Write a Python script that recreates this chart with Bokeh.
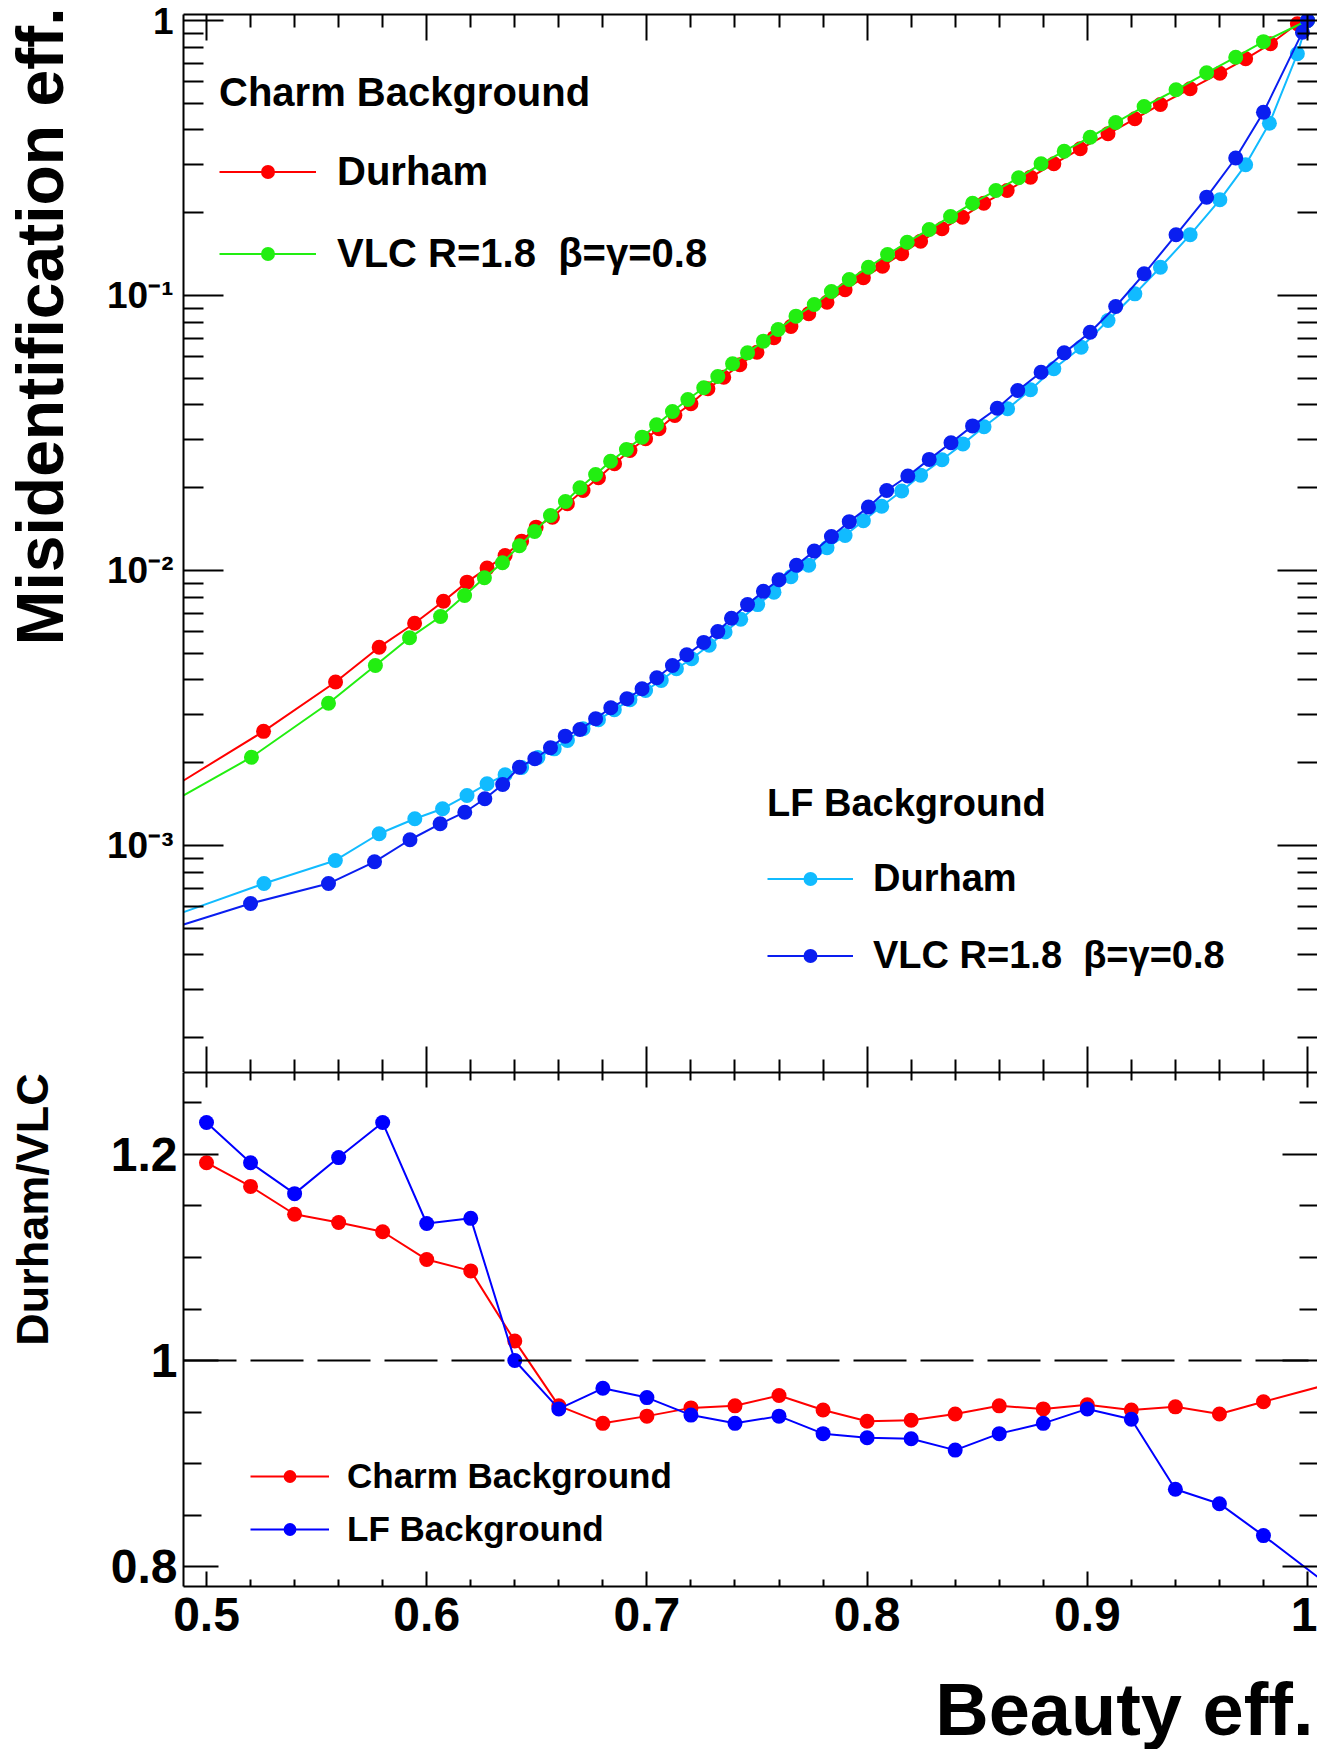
import math
from bokeh.plotting import figure
from bokeh.layouts import column, row
from bokeh.models import (FixedTicker, LinearAxis, LogAxis, Legend,
                          LegendItem, Span, Range1d)
from bokeh.core.properties import value
from bokeh.embed import file_html
from bokeh.resources import INLINE

# ---------------- data ----------------
# Charm background, Durham (red)
charm_durham_eff = [0.5259, 0.5586, 0.5784, 0.5945, 0.6076, 0.6183, 0.6274, 0.6356, 0.6431, 0.6497,
                    0.6571, 0.6639, 0.6710, 0.6780, 0.6853, 0.6923, 0.6994, 0.7055, 0.7127, 0.7200,
                    0.7277, 0.7349, 0.7422, 0.7500, 0.7577, 0.7654, 0.7735, 0.7818, 0.7900, 0.7983,
                    0.8070, 0.8157, 0.8243, 0.8340, 0.8433, 0.8530, 0.8636, 0.8742, 0.8848, 0.8968,
                    0.9094, 0.9216, 0.9332, 0.9467, 0.9602, 0.9719, 0.9832, 0.9954, 1.0]
charm_durham_mis = [2.60e-3, 3.93e-3, 5.26e-3, 6.43e-3, 7.73e-3, 9.07e-3, 1.020e-2, 1.134e-2, 1.278e-2, 1.437e-2,
                    1.562e-2, 1.748e-2, 1.953e-2, 2.174e-2, 2.443e-2, 2.731e-2, 3.012e-2, 3.275e-2, 3.661e-2, 4.039e-2,
                    4.578e-2, 5.045e-2, 5.598e-2, 6.218e-2, 7.019e-2, 7.714e-2, 8.580e-2, 9.454e-2, 0.1049, 0.1160,
                    0.1278, 0.1418, 0.1576, 0.1748, 0.1926, 0.2166, 0.2408, 0.2693, 0.3012, 0.3415,
                    0.3873, 0.4390, 0.4950, 0.5644, 0.6432, 0.7257, 0.8228, 0.9727, 1.0]
# Charm background, VLC R=1.8 beta=gamma=0.8 (green)
charm_vlc_eff = [0.5204, 0.5554, 0.5767, 0.5922, 0.6063, 0.6172, 0.6262, 0.6344, 0.6421, 0.6490,
                 0.6562, 0.6630, 0.6696, 0.6767, 0.6835, 0.6907, 0.6978, 0.7044, 0.7116, 0.7186,
                 0.7258, 0.7322, 0.7389, 0.7457, 0.7529, 0.7596, 0.7677, 0.7760, 0.7838, 0.7919,
                 0.8006, 0.8093, 0.8182, 0.8282, 0.8379, 0.8479, 0.8585, 0.8688, 0.8790, 0.8895,
                 0.9013, 0.9129, 0.9258, 0.9403, 0.9542, 0.9674, 0.9800, 1.0]
charm_vlc_mis = [2.094e-3, 3.29e-3, 4.51e-3, 5.69e-3, 6.80e-3, 8.11e-3, 9.41e-3, 1.067e-2, 1.230e-2, 1.386e-2,
                 1.585e-2, 1.782e-2, 2.000e-2, 2.234e-2, 2.497e-2, 2.754e-2, 3.053e-2, 3.387e-2, 3.787e-2, 4.184e-2,
                 4.617e-2, 5.075e-2, 5.643e-2, 6.186e-2, 6.823e-2, 7.522e-2, 8.410e-2, 9.275e-2, 0.1034, 0.1143,
                 0.1267, 0.1409, 0.1562, 0.1738, 0.1938, 0.2166, 0.2408, 0.2679, 0.3012, 0.3347,
                 0.3763, 0.4256, 0.4867, 0.5598, 0.6453, 0.7355, 0.8375, 1.0]
# LF background, Durham (light blue)
lf_durham_eff = [0.5261, 0.5585, 0.5784, 0.5946, 0.6072, 0.6183, 0.6274, 0.6356, 0.6431, 0.6505,
                 0.6579, 0.6639, 0.6710, 0.6780, 0.6852, 0.6923, 0.6994, 0.7065, 0.7134, 0.7203,
                 0.7283, 0.7355, 0.7426, 0.7503, 0.7577, 0.7654, 0.7735, 0.7818, 0.7900, 0.7983,
                 0.8066, 0.8157, 0.8243, 0.8340, 0.8435, 0.8531, 0.8638, 0.8742, 0.8848, 0.8972,
                 0.9094, 0.9216, 0.9332, 0.9467, 0.9602, 0.9719, 0.9827, 0.9954, 1.0]
lf_durham_mis = [7.27e-4, 8.82e-4, 1.103e-3, 1.251e-3, 1.360e-3, 1.520e-3, 1.676e-3, 1.807e-3, 1.922e-3, 2.089e-3,
                 2.246e-3, 2.408e-3, 2.657e-3, 2.865e-3, 3.114e-3, 3.386e-3, 3.661e-3, 3.981e-3, 4.391e-3, 4.774e-3,
                 5.346e-3, 5.976e-3, 6.65e-3, 7.516e-3, 8.34e-3, 9.486e-3, 1.045e-2, 1.209e-2, 1.341e-2, 1.516e-2,
                 1.712e-2, 1.945e-2, 2.221e-2, 2.526e-2, 2.886e-2, 3.333e-2, 3.873e-2, 4.54e-2, 5.413e-2, 6.486e-2,
                 8.11e-2, 0.1014, 0.1267, 0.1662, 0.2228, 0.2987, 0.4228, 0.7566, 1.0]
# LF background, VLC R=1.8 beta=gamma=0.8 (blue)
lf_vlc_eff = [0.5200, 0.5554, 0.5763, 0.5924, 0.6061, 0.6173, 0.6264, 0.6345, 0.6421, 0.6491,
              0.6562, 0.6629, 0.6696, 0.6767, 0.6836, 0.6909, 0.6978, 0.7045, 0.7116, 0.7181,
              0.7258, 0.7322, 0.7384, 0.7457, 0.7529, 0.7600, 0.7679, 0.7760, 0.7838, 0.7919,
              0.8006, 0.8089, 0.8185, 0.8282, 0.8381, 0.8479, 0.8591, 0.8684, 0.8790, 0.8895,
              0.9013, 0.9129, 0.9258, 0.9403, 0.9542, 0.9674, 0.9800, 0.9977, 1.0]
lf_vlc_mis = [6.15e-4, 7.27e-4, 8.72e-4, 1.049e-3, 1.199e-3, 1.321e-3, 1.479e-3, 1.666e-3, 1.926e-3, 2.067e-3,
              2.266e-3, 2.497e-3, 2.641e-3, 2.888e-3, 3.167e-3, 3.416e-3, 3.713e-3, 4.072e-3, 4.513e-3, 4.937e-3,
              5.476e-3, 5.995e-3, 6.70e-3, 7.516e-3, 8.395e-3, 9.25e-3, 1.045e-2, 1.176e-2, 1.328e-2, 1.505e-2,
              1.700e-2, 1.953e-2, 2.206e-2, 2.535e-2, 2.913e-2, 3.355e-2, 3.890e-2, 4.513e-2, 5.261e-2, 6.186e-2,
              7.353e-2, 9.12e-2, 0.1199, 0.1662, 0.2278, 0.3162, 0.4640, 0.9068, 1.0]
# value of each curve where it leaves the left edge of the frame (eff = 0.4896)
edge_eff = 0.4896
charm_durham_edge = 1.723e-3
charm_vlc_edge = 1.52e-3
lf_durham_edge = 5.72e-4
lf_vlc_edge = 5.16e-4

# Ratio Durham/VLC
ratio_eff = [0.50, 0.52, 0.54, 0.56, 0.58, 0.60, 0.62, 0.64, 0.66, 0.68, 0.70, 0.72, 0.74,
             0.76, 0.78, 0.80, 0.82, 0.84, 0.86, 0.88, 0.90, 0.92, 0.94, 0.96, 0.98]
charm_ratio = [1.192, 1.169, 1.142, 1.134, 1.125, 1.098, 1.087, 1.019, 0.956, 0.939, 0.946, 0.954, 0.956,
               0.966, 0.952, 0.941, 0.942, 0.948, 0.956, 0.953, 0.957, 0.952, 0.955, 0.948, 0.960]
lf_ratio = [1.231, 1.192, 1.162, 1.197, 1.231, 1.133, 1.138, 1.000, 0.953, 0.973, 0.964, 0.947, 0.939,
            0.946, 0.929, 0.925, 0.924, 0.913, 0.929, 0.939, 0.953, 0.943, 0.875, 0.861, 0.830]
# where the ratio curves leave the right edge of the frame
ratio_edge_eff = 1.0045
charm_ratio_edge = 0.974
lf_ratio_edge = 0.790

x_major = [0.5, 0.6, 0.7, 0.8, 0.9, 1.0]
x_labels = {0.5: "0.5", 0.6: "0.6", 0.7: "0.7", 0.8: "0.8", 0.9: "0.9", 1.0: "1"}
y_top_major = [1e-3, 1e-2, 1e-1, 1.0]
y_top_labels = {1e-3: "10\u207b\u00b3", 1e-2: "10\u207b\u00b2", 1e-1: "10\u207b\u00b9", 1.0: "1"}
y_ratio_major = [0.8, 1.0, 1.2]
y_ratio_labels = {0.8: "0.8", 1.0: "1", 1.2: "1.2"}

y_title_top = "Misidentification eff."
y_title_ratio = "Durham/VLC"
x_title = "Beauty eff."

# ---------------- styling ----------------
FONT = "Liberation Sans"
RED, GREEN, LBLUE, DBLUE, RBLUE = "#ff0000", "#22ee11", "#11bbff", "#0a1ef0", "#0000ff"
X0, X1 = 0.48955, 1.00454
YT0, YT1 = 1.494e-4, 1.0515
YR0, YR1 = 0.7806, 1.2796
W, H = 1317, 1749
LEFT_W = 80            # strip holding the rotated y titles
MAIN_H = 1660          # height of the two panels together
TOP_H = 1072
BOT_H = MAIN_H - TOP_H
FL, FT_TOP = 183, 14   # frame left edge and top edge (page pixels)
FB = 1586              # bottom edge of the ratio frame
MS = 15

x_minor = [round(0.5 + 0.02 * i, 2) for i in range(26) if i % 5 != 0]
y_top_minor = [k * 10.0 ** e for e in range(-4, 0) for k in range(2, 10)]
y_ratio_minor = [0.85, 0.9, 0.95, 1.05, 1.1, 1.15, 1.25]


def style_axis(ax, tick_major, tick_minor, labels, size="48px", standoff=6):
    ax.axis_line_width = 2
    ax.axis_line_color = "black"
    ax.major_tick_in = tick_major
    ax.major_tick_out = 0
    ax.minor_tick_in = tick_minor
    ax.minor_tick_out = 0
    ax.major_tick_line_width = 2
    ax.minor_tick_line_width = 2
    ax.major_tick_line_color = "black"
    ax.minor_tick_line_color = "black"
    ax.major_label_text_font = FONT
    ax.major_label_text_font_style = "bold"
    ax.major_label_text_color = "black"
    ax.major_label_overrides = labels
    if any(v for v in labels.values()):
        ax.major_label_text_font_size = size
        ax.major_label_standoff = standoff
    else:
        ax.major_label_text_font_size = "1px"
        ax.major_label_text_alpha = 0
        ax.major_label_standoff = 0
    ax.axis_label = None


def blank(ticks):
    return {t: "" for t in ticks}


def bare_figure(width, height, x_range, y_range):
    f = figure(width=width, height=height, x_range=x_range, y_range=y_range,
               output_backend="svg", toolbar_location=None, x_axis_location=None,
               y_axis_location=None, min_border=0)
    f.grid.visible = False
    f.outline_line_color = None
    return f


# ---------------- top panel ----------------
p1 = figure(width=W - LEFT_W, height=TOP_H, x_range=Range1d(X0, X1), y_range=Range1d(YT0, YT1),
            y_axis_type="log", output_backend="svg", toolbar_location=None,
            min_border_left=FL - LEFT_W, min_border_right=0, min_border_top=FT_TOP, min_border_bottom=0)
p1.grid.visible = False
p1.outline_line_color = None

xt = FixedTicker(ticks=x_major, minor_ticks=x_minor)
ytt = FixedTicker(ticks=y_top_major, minor_ticks=y_top_minor)

p1.xaxis[0].ticker = xt
style_axis(p1.xaxis[0], 26, 13, blank(x_major))
p1.yaxis[0].ticker = ytt
style_axis(p1.yaxis[0], 40, 20, y_top_labels, size="37px", standoff=10)

ax_top = LinearAxis(ticker=xt)
style_axis(ax_top, 26, 13, blank(x_major))
p1.add_layout(ax_top, "above")
ax_right = LogAxis(ticker=ytt)
style_axis(ax_right, 40, 20, blank(y_top_major))
ax_right.axis_line_alpha = 0
p1.add_layout(ax_right, "right")

r_cd_l = p1.line([edge_eff] + charm_durham_eff, [charm_durham_edge] + charm_durham_mis, line_color=RED, line_width=2)
r_cd_m = p1.scatter(charm_durham_eff, charm_durham_mis, size=MS, fill_color=RED, line_color=None)
r_cv_l = p1.line([edge_eff] + charm_vlc_eff, [charm_vlc_edge] + charm_vlc_mis, line_color=GREEN, line_width=2)
r_cv_m = p1.scatter(charm_vlc_eff, charm_vlc_mis, size=MS, fill_color=GREEN, line_color=None)
r_ld_l = p1.line([edge_eff] + lf_durham_eff, [lf_durham_edge] + lf_durham_mis, line_color=LBLUE, line_width=2)
r_ld_m = p1.scatter(lf_durham_eff, lf_durham_mis, size=MS, fill_color=LBLUE, line_color=None)
r_lv_l = p1.line([edge_eff] + lf_vlc_eff, [lf_vlc_edge] + lf_vlc_mis, line_color=DBLUE, line_width=2)
r_lv_m = p1.scatter(lf_vlc_eff, lf_vlc_mis, size=MS, fill_color=DBLUE, line_color=None)


def make_legend(items, title, loc, size, gw, gh, spacing, title_standoff, label_standoff):
    kw = {}
    if title:
        kw = dict(title=title, title_text_font=FONT, title_text_font_style="bold",
                  title_text_font_size=size, title_standoff=title_standoff, title_text_color="black")
    lg = Legend(items=items, location=loc, orientation="vertical",
                label_text_font=FONT, label_text_font_style="bold", label_text_font_size=size,
                label_text_color="black",
                glyph_width=gw, glyph_height=gh, spacing=spacing, padding=10, margin=0,
                label_standoff=label_standoff, border_line_alpha=0, background_fill_alpha=0, **kw)
    return lg


leg_charm = make_legend([LegendItem(label="Durham", renderers=[r_cd_l, r_cd_m]),
                         LegendItem(label="VLC R=1.8  \u03b2=\u03b3=0.8", renderers=[r_cv_l, r_cv_m])],
                        "Charm Background", (26, 786), "40px", 97, 35, 37, 34, 21)
leg_lf = make_legend([LegendItem(label="Durham", renderers=[r_ld_l, r_ld_m]),
                      LegendItem(label="VLC R=1.8  \u03b2=\u03b3=0.8", renderers=[r_lv_l, r_lv_m])],
                     "LF Background", (574, 85), "38px", 86, 35, 34, 32, 20)
p1.add_layout(leg_charm, "center")
p1.add_layout(leg_lf, "center")

# ---------------- ratio panel ----------------
p2 = figure(width=W - LEFT_W, height=BOT_H, x_range=Range1d(X0, X1), y_range=Range1d(YR0, YR1),
            output_backend="svg", toolbar_location=None,
            min_border_left=FL - LEFT_W, min_border_right=0, min_border_top=0,
            min_border_bottom=MAIN_H - FB)
p2.grid.visible = False
p2.outline_line_color = None

yrt = FixedTicker(ticks=y_ratio_major, minor_ticks=y_ratio_minor)
p2.xaxis[0].ticker = xt
style_axis(p2.xaxis[0], 15, 7, x_labels, size="48px", standoff=11)
p2.yaxis[0].ticker = yrt
style_axis(p2.yaxis[0], 35, 18, y_ratio_labels, size="48px", standoff=6)

ax2_top = LinearAxis(ticker=xt)
style_axis(ax2_top, 15, 8, blank(x_major))
p2.add_layout(ax2_top, "above")
ax2_right = LinearAxis(ticker=yrt)
style_axis(ax2_right, 35, 18, blank(y_ratio_major))
ax2_right.axis_line_alpha = 0
p2.add_layout(ax2_right, "right")

p2.add_layout(Span(location=1.0, dimension="width", line_color="black", line_width=2, line_dash="53 14"))

q_c_l = p2.line(ratio_eff + [ratio_edge_eff], charm_ratio + [charm_ratio_edge], line_color=RED, line_width=2)
q_c_m = p2.scatter(ratio_eff, charm_ratio, size=MS, fill_color=RED, line_color=None)
q_l_l = p2.line(ratio_eff + [ratio_edge_eff], lf_ratio + [lf_ratio_edge], line_color=RBLUE, line_width=2)
q_l_m = p2.scatter(ratio_eff, lf_ratio, size=MS, fill_color=RBLUE, line_color=None)

leg_ratio = make_legend([LegendItem(label="Charm Background", renderers=[q_c_l, q_c_m]),
                         LegendItem(label="LF Background", renderers=[q_l_l, q_l_m])],
                        None, (57, 27), "35px", 79, 32, 13, 0, 18)
p2.add_layout(leg_ratio, "center")

# ---------------- titles (strips in page-pixel coordinates) ----------------
left = bare_figure(LEFT_W, MAIN_H, Range1d(0, LEFT_W), Range1d(MAIN_H, 0))
left.text(x=[39], y=[7], text=[y_title_top], angle=math.pi / 2, text_align="right",
          text_baseline="alphabetic", text_font=value(FONT), text_font_style="bold",
          text_font_size="66px", text_color="black")
left.text(x=[32], y=[1209], text=[y_title_ratio], angle=math.pi / 2, text_align="center",
          text_baseline="alphabetic", text_font=value(FONT), text_font_style="bold",
          text_font_size="45px", text_color="black")

bottom = bare_figure(W, H - MAIN_H, Range1d(0, W), Range1d(H, MAIN_H))
bottom.text(x=[1313], y=[1709], text=[x_title], text_align="right", text_baseline="alphabetic",
            text_font=value(FONT), text_font_style="bold", text_font_size="74px", text_color="black")

layout = column(row(left, column(p1, p2, spacing=0), spacing=0), bottom, spacing=0)
open("out.html", "w").write(file_html(layout, INLINE))
